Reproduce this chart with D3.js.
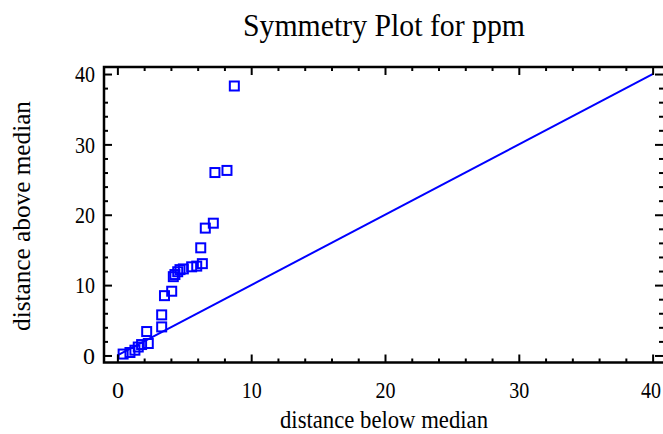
<!DOCTYPE html>
<html>
<head>
<meta charset="utf-8">
<script src="https://cdn.jsdelivr.net/npm/d3@7"></script>
<style>
  html, body { margin: 0; padding: 0; background: #fff; }
  svg { display: block; }
</style>
</head>
<body>
<svg id="chart" width="663" height="434"></svg>
<script>
// ---- data ----
const belowMedian = [0.43, 0.94, 1.31, 1.56, 1.81, 2.31, 2.19, 3.31, 3.31, 3.52, 4.06, 4.18, 4.30, 4.51, 4.68, 4.93, 5.55, 5.93, 6.35, 6.23, 6.57, 7.17, 7.29, 8.19, 8.74];
const aboveMedian = [0.20, 0.42, 0.75, 1.20, 1.55, 1.70, 3.40, 4.06, 5.77, 8.50, 9.13, 11.2, 11.5, 11.9, 12.2, 12.3, 12.6, 12.7, 13.05, 15.3, 18.1, 18.8, 26.0, 26.3, 38.3];
const xTickLabels = ["0", "10", "20", "30", "40"];
const yTickLabels = ["0", "10", "20", "30", "40"];
const refLine = [0, 40];
const titleText = "Symmetry Plot for ppm";
const xLabel = "distance below median";
const yLabel = "distance above median";

const FONT = "'Liberation Serif', 'Times New Roman', serif";
const points = belowMedian.map((d, i) => ({ x: d, y: aboveMedian[i] }));

const svg = d3.select("#chart");
const pL = 104, pR = 666, pT = 67, pB = 362.5;
const blue = "#0000ff";

const x = d3.scaleLinear().domain([-1, 41]).range([pL, pR]);
const y = d3.scaleLinear().domain([-1, 41]).range([pB, pT]);

svg.append("defs").append("clipPath").attr("id", "clip")
  .append("rect").attr("x", pL).attr("y", pT).attr("width", pR - pL).attr("height", pB - pT);

const plot = svg.append("g");

// reference line
plot.append("line")
  .attr("clip-path", "url(#clip)")
  .attr("x1", x(refLine[0])).attr("y1", y(refLine[0]))
  .attr("x2", x(refLine[1])).attr("y2", y(refLine[1]))
  .attr("stroke", blue).attr("stroke-width", 2);

// points (hollow squares)
const s = 9;
plot.selectAll("rect.pt").data(points).join("rect")
  .attr("class", "pt")
  .attr("x", d => x(d.x) - s / 2)
  .attr("y", d => y(d.y) - s / 2)
  .attr("width", s).attr("height", s)
  .attr("fill", "none").attr("stroke", blue).attr("stroke-width", 2);

// axes with inward ticks
const majorVals = xTickLabels.map(Number);
const minorVals = d3.range(0, 41, 2).filter(v => v % 10 !== 0);

function styleAxis(g) {
  g.select(".domain").remove();
  g.selectAll(".tick line").attr("stroke", "#000").attr("stroke-width", 2);
}
function styleText(g) {
  g.selectAll("text")
    .style("font-family", FONT).style("font-size", "24px")
    .attr("fill", "#000")
    .attr("textLength", function () { return this.textContent.length > 1 ? 20 : null; })
    .attr("lengthAdjust", "spacingAndGlyphs");
}

// bottom
svg.append("g").attr("transform", `translate(0,${pB})`)
  .call(d3.axisBottom(x).tickValues(majorVals).tickSize(-8).tickFormat((d, i) => xTickLabels[i]).tickPadding(18))
  .call(styleAxis).call(styleText)
  .call(g => g.selectAll("text").filter(d => d === 40).attr("dx", -2));
svg.append("g").attr("transform", `translate(0,${pB})`)
  .call(d3.axisBottom(x).tickValues(minorVals).tickSize(-4).tickFormat(""))
  .call(styleAxis);
// top
svg.append("g").attr("transform", `translate(0,${pT})`)
  .call(d3.axisTop(x).tickValues(majorVals).tickSize(-8).tickFormat(""))
  .call(styleAxis);
svg.append("g").attr("transform", `translate(0,${pT})`)
  .call(d3.axisTop(x).tickValues(minorVals).tickSize(-4).tickFormat(""))
  .call(styleAxis);
// left
svg.append("g").attr("transform", `translate(${pL},0)`)
  .call(d3.axisLeft(y).tickValues(yTickLabels.map(Number)).tickSize(-8).tickFormat((d, i) => yTickLabels[i]).tickPadding(9))
  .call(styleAxis).call(styleText);
svg.append("g").attr("transform", `translate(${pL},0)`)
  .call(d3.axisLeft(y).tickValues(minorVals).tickSize(-4).tickFormat(""))
  .call(styleAxis);
// right
svg.append("g").attr("transform", `translate(${pR - 3},0)`)
  .call(d3.axisRight(y).tickValues(yTickLabels.map(Number)).tickSize(-8).tickFormat(""))
  .call(styleAxis);
svg.append("g").attr("transform", `translate(${pR - 3},0)`)
  .call(d3.axisRight(y).tickValues(minorVals).tickSize(-4).tickFormat(""))
  .call(styleAxis);

// frame
svg.append("rect")
  .attr("x", pL).attr("y", pT).attr("width", pR - pL).attr("height", pB - pT)
  .attr("fill", "none").attr("stroke", "#000").attr("stroke-width", 2.5);

// title
svg.append("text")
  .attr("x", 384).attr("y", 36)
  .attr("text-anchor", "middle")
  .style("font-family", FONT).style("font-size", "31px")
  .attr("textLength", 282).attr("lengthAdjust", "spacingAndGlyphs")
  .text(titleText);

// x label
svg.append("text")
  .attr("x", 384).attr("y", 428)
  .attr("text-anchor", "middle")
  .style("font-family", FONT).style("font-size", "25px")
  .attr("textLength", 208).attr("lengthAdjust", "spacingAndGlyphs")
  .text(xLabel);

// y label
svg.append("text")
  .attr("transform", `translate(30,216) rotate(-90)`)
  .attr("text-anchor", "middle")
  .style("font-family", FONT).style("font-size", "25px")
  .attr("textLength", 230).attr("lengthAdjust", "spacingAndGlyphs")
  .text(yLabel);
</script>
</body>
</html>
